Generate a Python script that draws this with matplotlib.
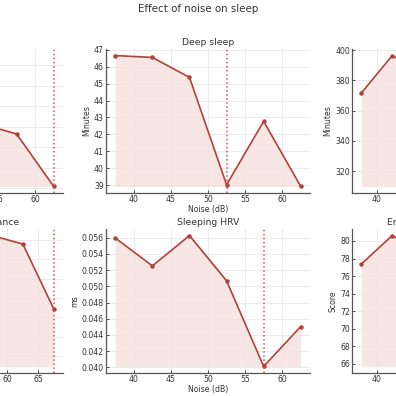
import numpy as np
from matplotlib import pyplot as plt
from matplotlib.ticker import MultipleLocator

plt.rcParams['font.family'] = 'DejaVu Sans'
plt.rcParams['font.size'] = 5.5

# noise levels (dB)
noise6 = [37.5, 42.5, 47.5, 52.5, 57.5, 62.5]
noise7 = [37.5, 42.5, 47.5, 52.5, 57.5, 62.5, 67.5]

# panels (row, col)
titles = ['Sleep score', 'Deep sleep', 'Total sleep',
          'Sleep stage performance', 'Sleeping HRV', 'Energy level after waking up']
ylabels = ['Score', 'Minutes', 'Minutes', 'Score', 'ms', 'Score']
xs = [noise6, noise6, noise7, noise7, noise6, noise7]
sleep_score = [125, 134.6, 118, 101.7, 96.4, 70.9]
deep_sleep = [46.66, 46.55, 45.37, 39.02, 42.77, 38.92]
total_sleep = [371.6, 396.4, 385, 350, 330, 345, 309.9]
performance = [75, 57.3, 70, 85, 91.2, 89.0, 72.2]
sleeping_hrv = [0.05595, 0.05251, 0.05625, 0.05068, 0.04012, 0.04504]
energy = [77.37, 80.62, 78.5, 74, 70, 72, 65.72]
ys = [sleep_score, deep_sleep, total_sleep, performance, sleeping_hrv, energy]
vlines = [62.5, 52.5, 52.5, 67.5, 57.5, 62.5]
ysteps = [10, 1, 20, 5, 0.002, 2]

line_c = '#b0423a'
fill_c = '#f6e0dc'

fig = plt.figure(figsize=(3.96, 3.96), dpi=100)
fig.suptitle('Effect of noise on sleep', fontsize=7.4, y=0.99, color='#333333')

lefts = [-0.356, 0.2677, 0.8889]
bottoms = [0.5126, 0.0581]
w, h = 0.5152, 0.3636

for i in range(6):
    r, c = divmod(i, 3)
    ax = fig.add_axes([lefts[c], bottoms[r], w, h])
    x = np.array(xs[i])
    y = np.array(ys[i])
    ax.fill_between(x, y, y.min(), color=fill_c, alpha=0.8, lw=0)
    ax.plot(x, y, color=line_c, marker='o', ms=2.2, lw=1.2)
    ax.axvline(vlines[i], color='#d9534f', ls=':', lw=1.1)
    ax.set_title(titles[i], fontsize=6.7, color='#333333', pad=3)
    ax.set_xlabel('Noise (dB)', fontsize=5.6, color='#333333', labelpad=1)
    ax.set_ylabel(ylabels[i], fontsize=5.6, color='#333333', labelpad=2)
    ax.xaxis.set_major_locator(MultipleLocator(5))
    ax.yaxis.set_major_locator(MultipleLocator(ysteps[i]))
    ax.grid(True, color='#ebebeb', lw=0.7)
    ax.set_axisbelow(True)
    for s in ['top', 'right']:
        ax.spines[s].set_visible(False)
    for s in ['left', 'bottom']:
        ax.spines[s].set_color('#555555')
        ax.spines[s].set_linewidth(0.9)
    ax.tick_params(direction='in', length=2, width=0.6, labelsize=5.6,
                   colors='#333333', pad=1.5)

fig.savefig('out.png', dpi=100)
